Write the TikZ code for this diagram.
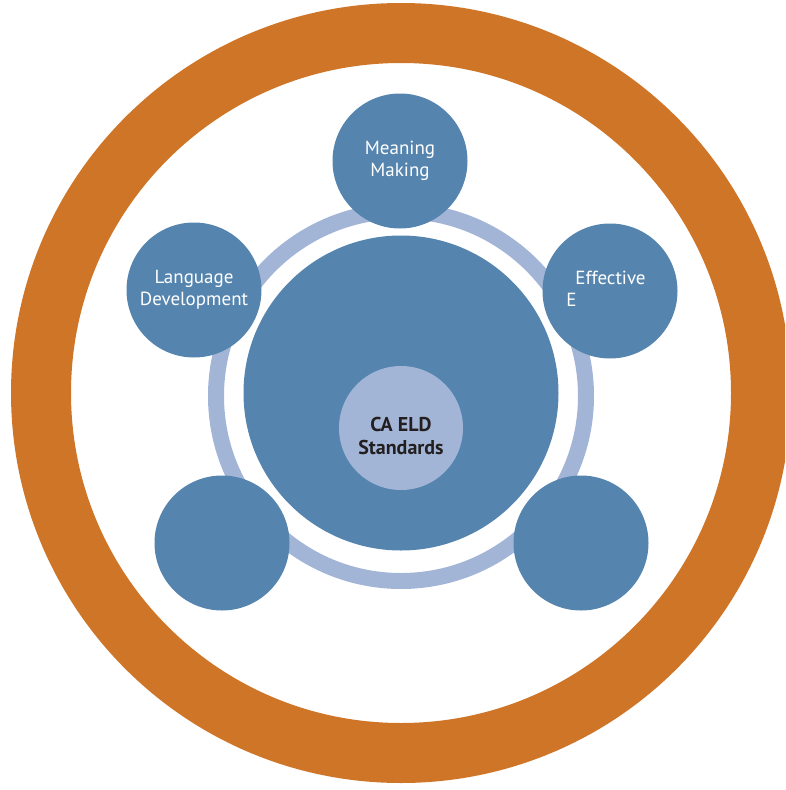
\documentclass[tikz,border=0pt]{standalone}
\usepackage{fontspec}
\setmainfont{PT Sans}
\usetikzlibrary{positioning}
\definecolor{eldorange}{HTML}{CF7528}
\definecolor{eldblue}{HTML}{5585AE}
\definecolor{eldlight}{HTML}{A2B5D6}
\definecolor{eldtext}{HTML}{231F20}

\begin{document}
\begin{tikzpicture}[x=1pt, y=-1pt,
  petal/.style={circle, fill=eldblue, minimum size=135pt, inner sep=0pt,
    text=white, font=\fontsize{19}{22}\selectfont, align=center},
  petaltext/.style={inner sep=0pt, text=white, font=\fontsize{19}{22}\selectfont}]
\useasboundingbox (0,0) rectangle (785,790);
% outer ring, cut at the right edge
\begin{scope}
  \clip (0,0) rectangle (785,790);
  \draw [eldorange, line width=60pt] (401,393) circle [radius=360pt];
\end{scope}
% light ring behind the petals
\draw [eldlight, line width=16pt] (401,396) circle [radius=185pt];
\node [circle, fill=eldblue, minimum size=315pt, inner sep=0pt] (core) at (401,393) {};
\node [circle, fill=eldlight, minimum size=124pt, inner sep=0pt] (eld) at (401,428) {};
\node [inner sep=0pt, text=eldtext, font=\bfseries\fontsize{20}{23}\selectfont,
  align=center] (eldtxt) at (401,436) {CA ELD\\Standards};
% petals
\node [petal] (meaning) at (400,161) {Meaning\\Making};
\node [petal] (lang) at (194,290) {Language\\Development};
\node [petal] (effect) at (610,291) {};
\node [petaltext, align=left] (effecttxt) at (606,289) {\hspace*{9pt}Effective\\E};
\node [petal] (lowleft) at (222,543) {};
\node [petal] (lowright) at (581,543) {};
\end{tikzpicture}
\end{document}
